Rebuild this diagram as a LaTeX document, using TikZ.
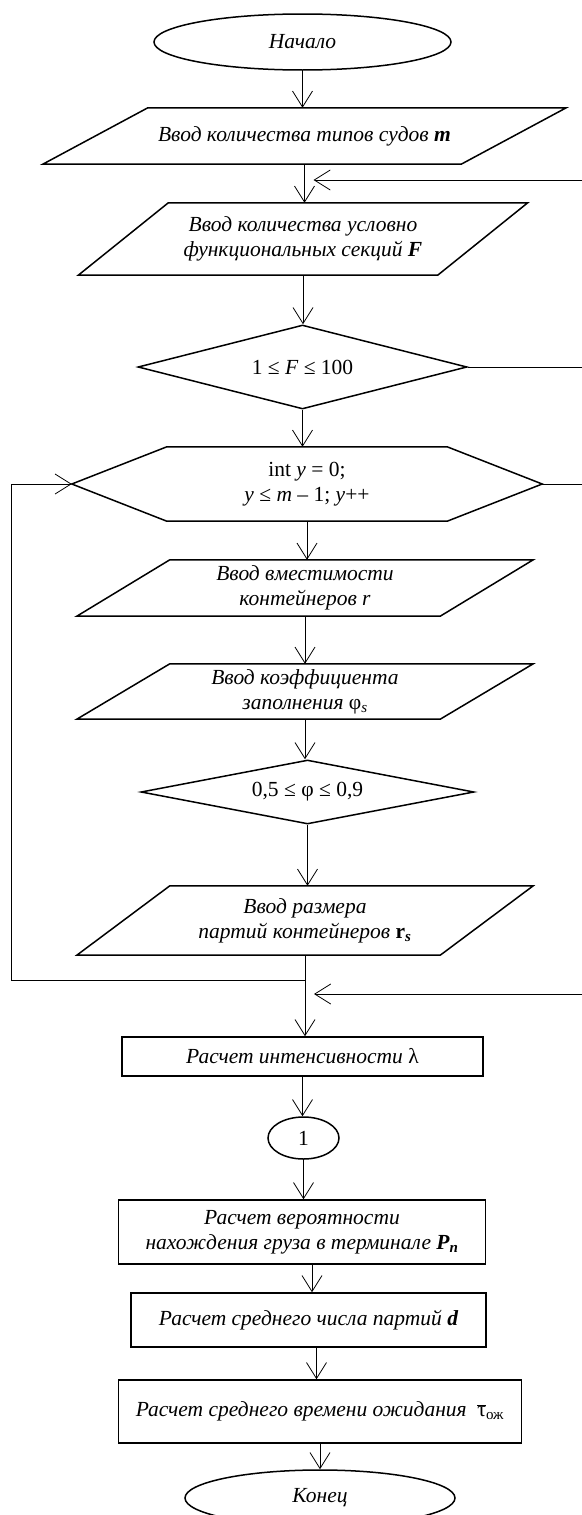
\documentclass[tikz,border=0pt]{standalone}
\usepackage{fontspec}
\setmainfont{Liberation Serif}
\usetikzlibrary{positioning,shapes.geometric,arrows.meta,calc}

\begin{document}
\begin{tikzpicture}[
      x=1pt, y=-1pt,
      >={Straight Barb[length=16pt,width=20pt]},
      font=\fontsize{21.5}{25}\selectfont,
      outline/.style={draw, line width=1.5pt},
      term/.style={ellipse, outline, align=center, inner sep=2pt, font=\fontsize{21.5}{25}\selectfont\itshape},
      io/.style={rectangle, align=center, inner sep=2pt, font=\fontsize{21.5}{25}\selectfont\itshape},
      check/.style={diamond, outline, align=center, inner sep=2pt},
      loopbox/.style={rectangle, align=center, inner sep=2pt},
      calcbox/.style={rectangle, outline, align=center, inner sep=2pt, font=\fontsize{21.5}{25}\selectfont\itshape},
      link/.style={->, line width=0.8pt}
      ]
      \useasboundingbox (0,0) rectangle (581,1515);
      \node[term, minimum width=297pt, minimum height=56pt] (START) at (302.5,42) {Начало};
      \node[io, minimum width=418pt, minimum height=56pt] (IN1) at (304.5,136) {Ввод количества типов судов \textbf{m}};
      \node[io, minimum width=359pt, minimum height=72pt] (IN2) at (303,239) {Ввод количества условно\\функциональных секций \textbf{F}};
      \node[check, aspect=3.9, minimum width=329pt, minimum height=84pt] (CHK1) at (302.5,367) {1 ≤ \textit{F} ≤ 100};
      \node[loopbox, minimum width=470pt, minimum height=74pt] (LOOP) at (307,484) {int \textit{y} = 0;\\\textit{y} ≤ \textit{m} – 1; \textit{y}++};
      \node[io, minimum width=363pt, minimum height=56pt] (IN3) at (305,588) {Ввод вместимости\\контейнеров r};
      \node[io, minimum width=363pt, minimum height=55pt] (IN4) at (305,691.5) {Ввод коэффициента\\заполнения {\upshape φ}\textsubscript{s}};
      \node[check, aspect=5.2, minimum width=333pt, minimum height=64pt] (CHK2) at (307.5,792) {0,5 ≤ φ ≤ 0,9};
      \node[io, minimum width=363pt, minimum height=69pt] (IN5) at (305,920.5) {Ввод размера\\партий контейнеров \textbf{\upshape r}\textsubscript{\textbf{s}}};
      \node[calcbox, minimum width=361pt, minimum height=39pt] (CALC1) at (302.5,1056.5) {Расчет интенсивности {\upshape λ}};
      \node[term, minimum width=71pt, minimum height=42pt, font=\fontsize{21.5}{25}\selectfont] (CON) at (303.5,1138) {1};
      \node[calcbox, minimum width=367pt, minimum height=64pt] (CALC2) at (302,1232) {Расчет вероятности\\нахождения груза в терминале \textbf{P}\textsubscript{\textbf{n}}};
      \node[calcbox, minimum width=355pt, minimum height=54pt] (CALC3) at (308.5,1320) {Расчет среднего числа партий \textbf{d}};
      \node[calcbox, minimum width=403pt, minimum height=63pt] (CALC4) at (320,1411.5) {Расчет среднего времени ожидания \ \(\overline{\hbox{\upshape τ}}\)\textsubscript{\upshape ож}};
      \node[term, minimum width=270pt, minimum height=56pt] (END) at (320,1498) {Конец};
      % parallelograms and the loop hexagon around their nodes
      \draw[outline] ([xshift=-52.5pt]IN1.south west) -- ([xshift=-52.5pt]IN1.south east) -- ([xshift=52.5pt]IN1.north east) -- ([xshift=52.5pt]IN1.north west) -- cycle;
      \draw[outline] ([xshift=-45pt]IN2.south west) -- ([xshift=-45pt]IN2.south east) -- ([xshift=45pt]IN2.north east) -- ([xshift=45pt]IN2.north west) -- cycle;
      \draw[outline] ([xshift=-46.5pt]IN3.south west) -- ([xshift=-46.5pt]IN3.south east) -- ([xshift=46.5pt]IN3.north east) -- ([xshift=46.5pt]IN3.north west) -- cycle;
      \draw[outline] ([xshift=-46.5pt]IN4.south west) -- ([xshift=-46.5pt]IN4.south east) -- ([xshift=46.5pt]IN4.north east) -- ([xshift=46.5pt]IN4.north west) -- cycle;
      \draw[outline] ([xshift=-46.5pt]IN5.south west) -- ([xshift=-46.5pt]IN5.south east) -- ([xshift=46.5pt]IN5.north east) -- ([xshift=46.5pt]IN5.north west) -- cycle;
      \draw[outline] (LOOP.west) -- ([xshift=95pt]LOOP.north west) -- ([xshift=-95pt]LOOP.north east) -- (LOOP.east) -- ([xshift=-95pt]LOOP.south east) -- ([xshift=95pt]LOOP.south west) -- cycle;
      \coordinate (J1) at ([yshift=-25pt]IN5.south);
      \coordinate (R1) at (590,180);
      \coordinate (R2) at (590,994);
      \draw[link] (START.south) -- (START.south |- IN1.north);
      \draw[link] (IN1.south) -- (IN1.south |- IN2.north);
      \draw[link] (IN2.south) -- (IN2.south |- CHK1.north);
      \draw[link] (CHK1.south) -- (CHK1.south |- LOOP.north);
      \draw[link] (LOOP.south) -- (LOOP.south |- IN3.north);
      \draw[link] (IN3.south) -- (IN3.south |- IN4.north);
      \draw[link] (IN4.south) -- (IN4.south |- CHK2.north);
      \draw[link] (CHK2.south) -- (CHK2.south |- IN5.north);
      \draw[link] (IN5.south) -- (IN5.south |- CALC1.north);
      \draw[link] (CALC1.south) -- (CALC1.south |- CON.north);
      \draw[link] (CON.south) -- (CON.south |- CALC2.north);
      \draw[link] ([xshift=10pt]CALC2.south) -- ([xshift=10pt]CALC2.south |- CALC3.north);
      \draw[link] ([xshift=8pt]CALC3.south) -- ([xshift=8pt]CALC3.south |- CALC4.north);
      \draw[link] (CALC4.south) -- (CALC4.south |- END.north);
      \draw[link] (J1) -- ++(-294,0) |- (LOOP.west);
      \draw[link, shorten >=9pt] (R1) -- (R1 -| IN1.south);
      \draw[link, shorten >=9pt] (R2) -- (R2 -| IN5.south);
      \draw[line width=0.8pt] (CHK1.east) -- (CHK1.east -| R1);
      \draw[line width=0.8pt] (LOOP.east) -- (LOOP.east -| R1);
    \end{tikzpicture}
\end{document}
